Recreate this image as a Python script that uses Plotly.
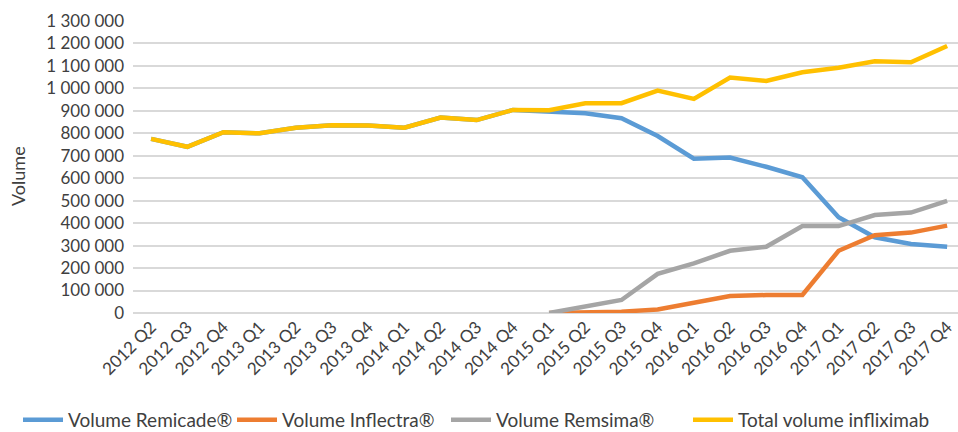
import plotly.graph_objects as go

quarters = ["2012 Q2","2012 Q3","2012 Q4","2013 Q1","2013 Q2","2013 Q3","2013 Q4",
            "2014 Q1","2014 Q2","2014 Q3","2014 Q4","2015 Q1","2015 Q2","2015 Q3",
            "2015 Q4","2016 Q1","2016 Q2","2016 Q3","2016 Q4","2017 Q1","2017 Q2",
            "2017 Q3","2017 Q4"]

total = [775000, 740000, 805000, 800000, 825000, 836000, 835000, 825000, 870000, 859000,
         904000, 903000, 934000, 934000, 990000, 953000, 1048000, 1033000, 1072000,
         1092000, 1121000, 1116000, 1189000]

remicade = [775000, 740000, 805000, 800000, 825000, 836000, 835000, 825000, 870000, 859000,
            904000, 896000, 889000, 867000, 788000, 687000, 692000, 651000, 604000,
            426000, 337000, 307000, 295000]

inflectra = [None]*11 + [0, 1000, 6000, 16000, 46000, 76000, 80000, 80000,
                         277000, 346000, 358000, 389000]

remsima = [None]*11 + [0, 31000, 58000, 174000, 221000, 277000, 295000, 387000,
                       387000, 436000, 447000, 499000]

font = "Lato"
fig = go.Figure()
series = [("Volume Remicade®", remicade, "#5B9BD5", "legend"),
          ("Volume Inflectra®", inflectra, "#ED7D31", "legend"),
          ("Volume Remsima®", remsima, "#A5A5A5", "legend"),
          ("Total volume infliximab", total, "#FFC000", "legend2")]
for name, vals, col, lg in series:
    fig.add_trace(go.Scatter(x=quarters, y=vals, name=name, mode="lines",
                             line=dict(color=col, width=4.5), legend=lg))

PL, PR, PT, PB = 133, 958, 21, 313
W, H = PR - PL, PB - PT
def px_x(x): return (x - PL) / W
def px_y(y): return (PB - y) / H

fig.update_layout(
    width=958, height=432,
    margin=dict(l=PL, r=958 - PR, t=PT, b=432 - PB, autoexpand=False),
    paper_bgcolor="white", plot_bgcolor="white",
    separators=". ",
    font=dict(family=font, size=17, color="#404040"),
    showlegend=True,
    legend=dict(orientation="h", x=px_x(18), xanchor="left", y=px_y(420), yanchor="middle",
                font=dict(size=19, color="#404040"), itemwidth=40, entrywidth=159,
                entrywidthmode="pixels", bgcolor="rgba(0,0,0,0)"),
    legend2=dict(orientation="h", x=px_x(688), xanchor="left", y=px_y(420), yanchor="middle",
                 font=dict(size=19, color="#404040"), itemwidth=40,
                 bgcolor="rgba(0,0,0,0)"),
    xaxis=dict(type="category", range=[-0.5, 22.3], tickangle=-45,
               showgrid=False, showline=False, ticks="", automargin=False,
               tickfont=dict(size=17, color="#404040")),
    yaxis=dict(range=[0, 1300000], dtick=100000, tickformat=",d",
               showgrid=True, gridcolor="#D9D9D9", gridwidth=1.5,
               zeroline=True, zerolinecolor="#D9D9D9", zerolinewidth=1.5,
               showline=False, ticks="", ticklabelstandoff=8, automargin=False,
               tickfont=dict(size=17, color="#404040")),
    annotations=[dict(text="Volume", textangle=-90, xref="paper", yref="paper",
                      x=px_x(18), y=px_y(176), xanchor="center", yanchor="middle",
                      showarrow=False, font=dict(size=18, color="#404040"))],
)

fig.write_html("out.html", config={"displayModeBar": False},
               post_script="document.body.style.margin='0';document.body.style.overflow='hidden';")
